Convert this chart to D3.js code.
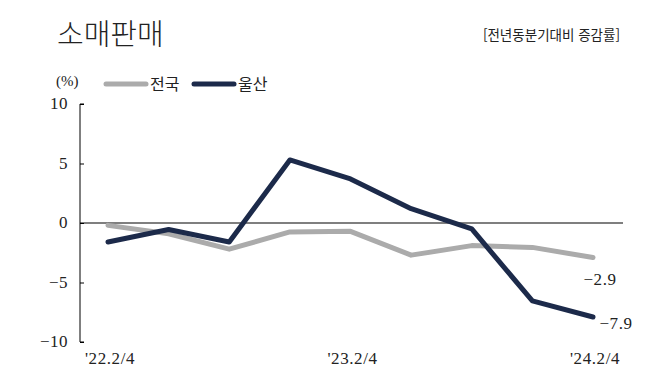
<!DOCTYPE html>
<html lang="ko">
<head>
<meta charset="utf-8">
<title>소매판매</title>
<script src="https://d3js.org/d3.v7.min.js"></script>
<style>
  body { margin: 0; background: #fff; }
  svg text { fill: #222; }
</style>
</head>
<body>
<div class="chart"></div>
<script>
// data
const quarters = ["'22.2/4", "'22.3/4", "'22.4/4", "'23.1/4", "'23.2/4", "'23.3/4", "'23.4/4", "'24.1/4", "'24.2/4"];
const shownTicks = ["'22.2/4", "'23.2/4", "'24.2/4"];
const national = [-0.2, -0.9, -2.2, -0.75, -0.7, -2.7, -1.9, -2.05, -2.9];
const ulsan = [-1.6, -0.55, -1.6, 5.3, 3.7, 1.2, -0.5, -6.55, -7.9];
const yTicks = [10, 5, 0, -5, -10];

const width = 658, height = 388;
const numFont = "'Liberation Serif', serif";
const krFont = "'Noto Sans CJK KR', sans-serif";

const svg = d3.select('.chart').append('svg')
    .attr('width', width)
    .attr('height', height);

const x = d3.scalePoint().domain(quarters).range([108, 593]);
const y = d3.scaleLinear().domain([-10, 10]).range([342, 104]);

// title
svg.append('text')
    .attr('x', 57).attr('y', 45)
    .attr('font-family', krFont)
    .attr('font-size', 29)
    .attr('font-weight', 300)
    .text('소매판매');

svg.append('text')
    .attr('x', 620).attr('y', 40)
    .attr('text-anchor', 'end')
    .attr('font-family', krFont)
    .attr('font-size', 13.5)
    .attr('fill', '#333')
    .text('[전년동분기대비 증감률]');

// legend
svg.append('text')
    .attr('x', 56).attr('y', 86)
    .attr('font-family', numFont)
    .attr('font-size', 15)
    .text('(%)');

const legend = [
    {name: '전국', color: '#ababab', x0: 106},
    {name: '울산', color: '#1c2a4a', x0: 194}
];
legend.forEach(l => {
    svg.append('line')
        .attr('x1', l.x0).attr('x2', l.x0 + 40)
        .attr('y1', 84).attr('y2', 84)
        .attr('stroke', l.color)
        .attr('stroke-width', 5)
        .attr('stroke-linecap', 'round');
    svg.append('text')
        .attr('x', l.x0 + 44).attr('y', 90)
        .attr('font-family', krFont)
        .attr('font-size', 16)
        .text(l.name);
});

// y axis
const yAxis = d3.axisRight(y).tickValues(yTicks).tickSize(4).tickFormat('');
const yg = svg.append('g')
    .attr('transform', 'translate(80,0)')
    .call(yAxis);
yg.select('.domain').attr('d', `M4,${y(10)}H0V${y(-10)}H4`).attr('stroke', '#000');
yg.selectAll('.tick line').attr('stroke', '#000');

svg.selectAll('text.ytick')
    .data(yTicks)
    .enter().append('text')
    .attr('class', 'ytick')
    .attr('x', 68)
    .attr('y', d => y(d) + 5)
    .attr('text-anchor', 'end')
    .attr('font-family', numFont)
    .attr('font-size', 17)
    .attr('letter-spacing', 0.5)
    .attr('fill', '#333')
    .text(d => d < 0 ? '\u2212' + Math.abs(d) : d);

// zero line
svg.append('line')
    .attr('x1', 80).attr('x2', 623)
    .attr('y1', y(0)).attr('y2', y(0))
    .attr('stroke', '#000')
    .attr('stroke-width', 1.2);

// x labels
svg.selectAll('text.xtick')
    .data(shownTicks)
    .enter().append('text')
    .attr('class', 'xtick')
    .attr('x', d => x(d) + 2)
    .attr('y', 364)
    .attr('text-anchor', 'middle')
    .attr('font-family', numFont)
    .attr('font-size', 17)
    .attr('letter-spacing', 0.6)
    .attr('fill', '#333')
    .text(d => d);

// lines
const line = d3.line()
    .x((d, i) => x(quarters[i]))
    .y(d => y(d));

svg.append('path')
    .datum(national)
    .attr('d', line)
    .attr('fill', 'none')
    .attr('stroke', '#ababab')
    .attr('stroke-width', 5)
    .attr('stroke-linejoin', 'round')
    .attr('stroke-linecap', 'round');

svg.append('path')
    .datum(ulsan)
    .attr('d', line)
    .attr('fill', 'none')
    .attr('stroke', '#1c2a4a')
    .attr('stroke-width', 5)
    .attr('stroke-linejoin', 'round')
    .attr('stroke-linecap', 'round');

// end labels
const last = quarters.length - 1;
svg.append('text')
    .attr('x', x(quarters[last]) + 7)
    .attr('y', y(national[last]) + 27)
    .attr('text-anchor', 'middle')
    .attr('font-family', numFont)
    .attr('font-size', 17)
    .attr('letter-spacing', 0.6)
    .attr('fill', '#333')
    .text('\u2212' + Math.abs(national[last]));

svg.append('text')
    .attr('x', x(quarters[last]) + 23)
    .attr('y', y(ulsan[last]) + 12)
    .attr('text-anchor', 'middle')
    .attr('font-family', numFont)
    .attr('font-size', 17)
    .attr('letter-spacing', 0.6)
    .attr('fill', '#333')
    .text('\u2212' + Math.abs(ulsan[last]));
</script>
</body>
</html>
